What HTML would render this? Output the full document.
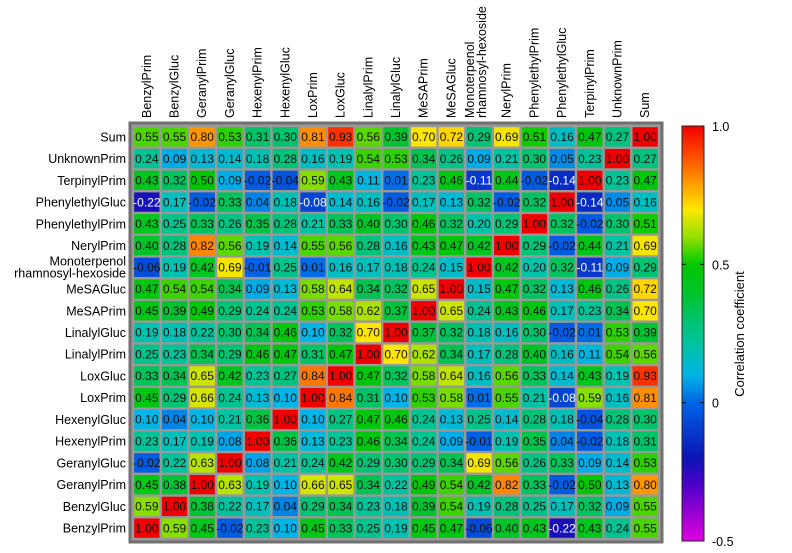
<!DOCTYPE html>
<html><head><meta charset="utf-8"><style>
body{margin:0;background:#fff;}
svg text{font-family:"Liberation Sans",Arial,sans-serif;}
</style></head><body>
<svg id="chart" width="792" height="548" xmlns="http://www.w3.org/2000/svg">
<defs>
<linearGradient id="cbg" x1="0" y1="1" x2="0" y2="0"></linearGradient>
</defs>
<rect x="130" y="123" width="532" height="419" fill="#999" stroke="#707070" stroke-width="3"/>
<g id="cells"></g>
<g id="collabels"></g>
<g id="rowlabels"></g>
<rect x="682" y="126" width="22" height="415" fill="url(#cbg)" stroke="#222" stroke-width="1"/>
<g id="cbticks"></g>
<text x="744" y="334" font-size="13" text-anchor="middle" transform="rotate(-90 744 334)">Correlation coefficient</text>
</svg>
<script>
const cols = ["BenzylPrim","BenzylGluc","GeranylPrim","GeranylGluc","HexenylPrim","HexenylGluc","LoxPrim","LoxGluc","LinalylPrim","LinalylGluc","MeSAPrim","MeSAGluc","Monoterpenol rhamnosyl-hexoside","NerylPrim","PhenylethylPrim","PhenylethylGluc","TerpinylPrim","UnknownPrim","Sum"];
const rows = ["Sum","UnknownPrim","TerpinylPrim","PhenylethylGluc","PhenylethylPrim","NerylPrim","Monoterpenol rhamnosyl-hexoside","MeSAGluc","MeSAPrim","LinalylGluc","LinalylPrim","LoxGluc","LoxPrim","HexenylGluc","HexenylPrim","GeranylGluc","GeranylPrim","BenzylGluc","BenzylPrim"];
const values = [
[0.55,0.55,0.80,0.53,0.31,0.30,0.81,0.93,0.56,0.39,0.70,0.72,0.29,0.69,0.51,0.16,0.47,0.27,1.00],
[0.24,0.09,0.13,0.14,0.18,0.28,0.16,0.19,0.54,0.53,0.34,0.26,0.09,0.21,0.30,0.05,0.23,1.00,0.27],
[0.43,0.32,0.50,0.09,-0.02,-0.04,0.59,0.43,0.11,0.01,0.23,0.46,-0.11,0.44,-0.02,-0.14,1.00,0.23,0.47],
[-0.22,0.17,-0.02,0.33,0.04,0.18,-0.08,0.14,0.16,-0.02,0.17,0.13,0.32,-0.02,0.32,1.00,-0.14,0.05,0.16],
[0.43,0.25,0.33,0.26,0.35,0.28,0.21,0.33,0.40,0.30,0.46,0.32,0.20,0.29,1.00,0.32,-0.02,0.30,0.51],
[0.40,0.28,0.82,0.56,0.19,0.14,0.55,0.56,0.28,0.16,0.43,0.47,0.42,1.00,0.29,-0.02,0.44,0.21,0.69],
[-0.06,0.19,0.42,0.69,-0.01,0.25,0.01,0.16,0.17,0.18,0.24,0.15,1.00,0.42,0.20,0.32,-0.11,0.09,0.29],
[0.47,0.54,0.54,0.34,0.09,0.13,0.58,0.64,0.34,0.32,0.65,1.00,0.15,0.47,0.32,0.13,0.46,0.26,0.72],
[0.45,0.39,0.49,0.29,0.24,0.24,0.53,0.58,0.62,0.37,1.00,0.65,0.24,0.43,0.46,0.17,0.23,0.34,0.70],
[0.19,0.18,0.22,0.30,0.34,0.46,0.10,0.32,0.70,1.00,0.37,0.32,0.18,0.16,0.30,-0.02,0.01,0.53,0.39],
[0.25,0.23,0.34,0.29,0.46,0.47,0.31,0.47,1.00,0.70,0.62,0.34,0.17,0.28,0.40,0.16,0.11,0.54,0.56],
[0.33,0.34,0.65,0.42,0.23,0.27,0.84,1.00,0.47,0.32,0.58,0.64,0.16,0.56,0.33,0.14,0.43,0.19,0.93],
[0.45,0.29,0.66,0.24,0.13,0.10,1.00,0.84,0.31,0.10,0.53,0.58,0.01,0.55,0.21,-0.08,0.59,0.16,0.81],
[0.10,0.04,0.10,0.21,0.36,1.00,0.10,0.27,0.47,0.46,0.24,0.13,0.25,0.14,0.28,0.18,-0.04,0.28,0.30],
[0.23,0.17,0.19,0.08,1.00,0.36,0.13,0.23,0.46,0.34,0.24,0.09,-0.01,0.19,0.35,0.04,-0.02,0.18,0.31],
[-0.02,0.22,0.63,1.00,0.08,0.21,0.24,0.42,0.29,0.30,0.29,0.34,0.69,0.56,0.26,0.33,0.09,0.14,0.53],
[0.45,0.38,1.00,0.63,0.19,0.10,0.66,0.65,0.34,0.22,0.49,0.54,0.42,0.82,0.33,-0.02,0.50,0.13,0.80],
[0.59,1.00,0.38,0.22,0.17,0.04,0.29,0.34,0.23,0.18,0.39,0.54,0.19,0.28,0.25,0.17,0.32,0.09,0.55],
[1.00,0.59,0.45,-0.02,0.23,0.10,0.45,0.33,0.25,0.19,0.45,0.47,-0.06,0.40,0.43,-0.22,0.43,0.24,0.55]
];
const cbTicks = [1.0,0.5,0,-0.5];
const cbTickLabels = ["1.0","0.5","0","-0.5"];

const NS="http://www.w3.org/2000/svg";
const stops=[[-0.5,[224,0,224]],[-0.3,[80,0,200]],[-0.2,[10,20,180]],[0,[0,100,230]],[0.1,[0,180,230]],[0.2,[0,195,170]],[0.3,[0,195,110]],[0.4,[0,195,40]],[0.5,[0,200,0]],[0.6,[150,225,0]],[0.7,[255,230,0]],[0.8,[255,150,0]],[0.9,[255,70,0]],[1.0,[240,0,0]]];
function color(v){
  for(let i=1;i<stops.length;i++){
    if(v<=stops[i][0]){const a=stops[i-1],b=stops[i];const t=(v-a[0])/(b[0]-a[0]);
      const c=a[1].map((x,k)=>Math.round(x+(b[1][k]-x)*t));return `rgb(${c.join(',')})`;}
  }
  return "rgb(240,0,0)";
}
const gx0=133,gy0=126,pw=526/cols.length,ph=413/rows.length;
const xs=j=>gx0+j*pw, ys=i=>gy0+i*ph;
const cellsG=document.getElementById('cells');
function mk(tag,attrs,parent){const e=document.createElementNS(NS,tag);for(const k in attrs)e.setAttribute(k,attrs[k]);parent.appendChild(e);return e;}
values.forEach((row,i)=>row.forEach((v,j)=>{
  const r=mk('rect',{x:xs(j)+1.2,y:ys(i)+1.2,width:pw-2.4,height:ph-2.4,fill:color(v)},cellsG);
  
  
  const t=mk('text',{x:xs(j)+pw/2,y:ys(i)+ph/2+4.2,'font-size':12,'text-anchor':'middle',fill:v<=-0.07?'#fff':'#111'},cellsG);
  t.textContent=v.toFixed(2);
  
  
}));
const cl=document.getElementById('collabels');
cols.forEach((c,j)=>{
  const x=xs(j)+pw/2;
  const parts=c.indexOf('Monoterpenol')===0?["Monoterpenol","rhamnosyl-hexoside"]:[c];
  parts.forEach((p,k)=>{
    const off=parts.length===2?(k===0?-5:7):4;
    const t=mk('text',{x:0,y:0,'font-size':12.5,transform:`translate(${x+off},118) rotate(-90)`},cl);
    t.textContent=p;
    
    
  });
});
const rl=document.getElementById('rowlabels');
rows.forEach((r,i)=>{
  const y=ys(i)+ph/2;
  const parts=r.indexOf('Monoterpenol')===0?["Monoterpenol","rhamnosyl-hexoside"]:[r];
  parts.forEach((p,k)=>{
    const off=parts.length===2?(k===0?-2:10):4.5;
    const t=mk('text',{x:126,y:y+off,'font-size':12.5,'text-anchor':'end'},rl);
    t.textContent=p;
    
    
  });
});
const g=document.getElementById('cbg');
for(let v=-0.5;v<=1.0001;v+=0.05){
  mk('stop',{offset:((v+0.5)/1.5*100).toFixed(2)+'%','stop-color':color(v)},g);
}
const cby=v=>541-(v+0.5)/1.5*415;
const cbt=document.getElementById('cbticks');
cbTicks.forEach((v,k)=>{
  const y=cby(v);
  if(v>-0.5&&v<1){
    const a=mk('line',{x1:682,x2:686,y1:y,y2:y,stroke:'#000'},cbt);
    
    
    const b=mk('line',{x1:700,x2:704,y1:y,y2:y,stroke:'#000'},cbt);
    
    
  }
  const t=mk('text',{x:712,y:y+5,'font-size':12.5},cbt);
  t.textContent=cbTickLabels[k];
  
  
});
</script>
</body></html>
